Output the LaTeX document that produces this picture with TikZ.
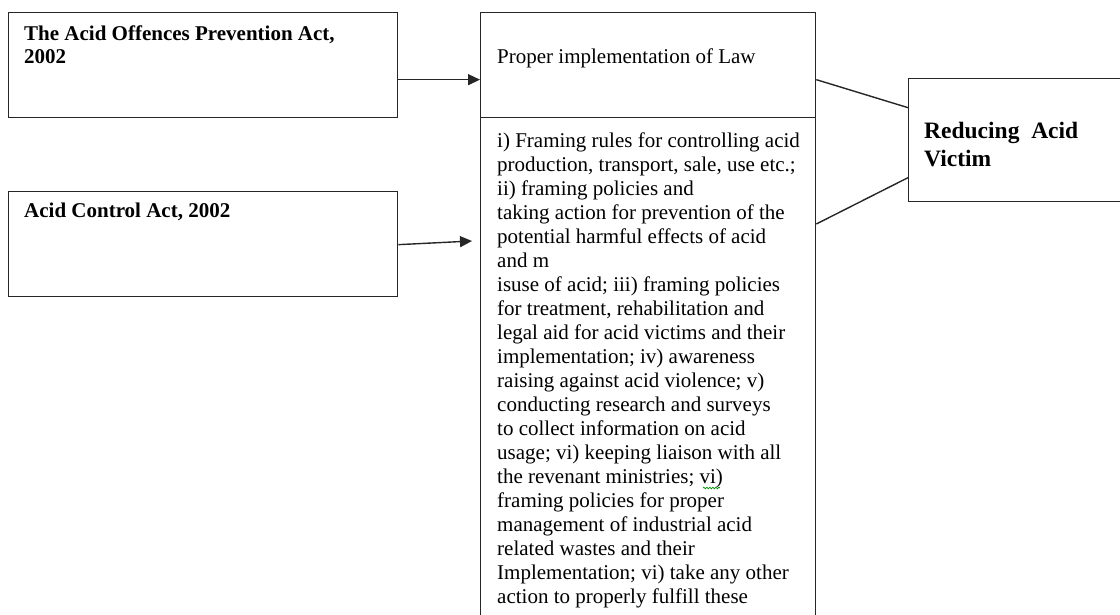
\documentclass[tikz,border=0pt]{standalone}
\usepackage{fontspec}
\setmainfont{Liberation Serif}
\usetikzlibrary{arrows.meta,decorations.pathmorphing}
\begin{document}
\begin{tikzpicture}[x=1pt,y=-1pt,
  box/.style={draw=black!85,line width=1.3pt,inner sep=0pt,anchor=north west},
  lbl/.style={anchor=base west,inner sep=0pt,align=left},
  conn/.style={draw=black!85,line width=1.4pt},
  arr/.style={conn,-{Triangle[length=12pt,width=11pt]}},
  spell/.style={draw=green!55!black,line width=0.7pt,decorate,decoration={snake,amplitude=0.8pt,segment length=3pt}}]
\useasboundingbox (0,0) rectangle (1120,614);
\clip (0,0) rectangle (1120,614);
% boxes
\node[box,minimum width=389pt,minimum height=105pt] (a) at (8,12) {};
\node[box,minimum width=389pt,minimum height=105pt] (b) at (8,191) {};
\node[box,minimum width=335pt,minimum height=105pt] (m1) at (480,12) {};
\node[box,minimum width=335pt,minimum height=540pt] (m2) at (480,117) {};
\node[box,minimum width=240pt,minimum height=123pt] (r) at (908,78) {};
% texts (anchor = baseline of last line)
\node[lbl,font=\fontsize{21pt}{23pt}\selectfont\bfseries] (ta) at (24,63) {The Acid Offences Prevention Act,\\2002};
\node[lbl,font=\fontsize{21pt}{23pt}\selectfont\bfseries] (tb) at (24,217) {Acid Control Act, 2002};
\node[lbl,font=\fontsize{21pt}{24pt}\selectfont] (tm1) at (497,63) {Proper implementation of Law};
\node[lbl,font=\fontsize{21pt}{24pt}\selectfont] (tm2) at (497,603) {i) Framing rules for controlling acid\\
production, transport, sale, use etc.;\\
ii) framing policies and\\
taking action for prevention of the\\
potential harmful effects of acid\\
and m\\
isuse of acid; iii) framing policies\\
for treatment, rehabilitation and\\
legal aid for acid victims and their\\
implementation; iv) awareness\\
raising against acid violence; v)\\
conducting research and surveys\\
to collect information on acid\\
usage; vi) keeping liaison with all\\
the revenant ministries; vi)\\
framing policies for proper\\
management of industrial acid\\
related wastes and their\\
Implementation; vi) take any other\\
action to properly fulfill these};
\node[lbl,font=\fontsize{23.5pt}{28pt}\selectfont\bfseries] (tr) at (924,166) {Reducing\ \ Acid\\Victim};
% spell-check mark under "vi)"
\path[spell] (703,488) -- (720,488);
% connectors
\coordinate (bend) at (472,241);
\draw[arr] ([yshift=-14.5pt]a.east) -- ([yshift=-14.5pt]a.east -| m1.west);
\draw[arr] ([yshift=-0.5pt]b.east) -- (bend);
\draw[conn] ([yshift=-14.5pt]m1.east) -- ([yshift=32.5pt]r.west);
\draw[conn] (m2.east |- 0,224) -- ([yshift=-37.5pt]r.west);
\end{tikzpicture}
\end{document}
